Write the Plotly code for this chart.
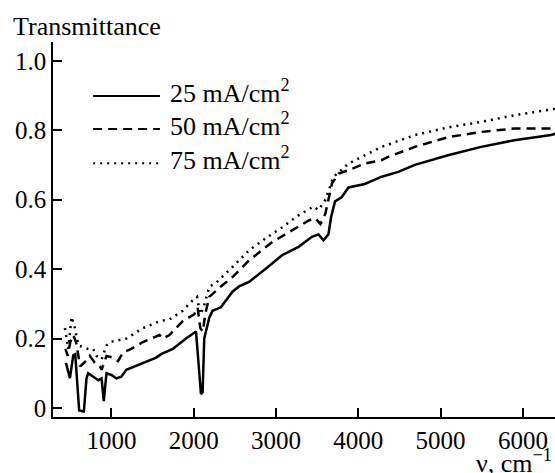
import plotly.graph_objects as go

# Transmission spectra of porous films anodised at three current densities
wn_25 = [447, 496, 536, 560, 608, 665, 697, 717, 780, 840, 880, 907, 940, 1000, 1060,
         1120, 1181, 1342, 1544, 1604, 1745, 1907, 2028, 2068, 2088, 2108, 2128, 2189,
         2229, 2330, 2390, 2471, 2551, 2672, 2871, 3073, 3274, 3436, 3516, 3576, 3637,
         3669, 3717, 3797, 3881, 4080, 4284, 4486, 4687, 5090, 5493, 5897, 6340, 6400]
tr_25 = [0.13, 0.086, 0.152, 0.155, -0.007, -0.01, 0.085, 0.10, 0.09, 0.08, 0.085, 0.02,
         0.10, 0.095, 0.085, 0.09, 0.11, 0.125, 0.145, 0.155, 0.17, 0.20, 0.22, 0.10,
         0.04, 0.045, 0.20, 0.26, 0.28, 0.29, 0.31, 0.335, 0.35, 0.363, 0.40, 0.44,
         0.464, 0.493, 0.50, 0.483, 0.50, 0.55, 0.595, 0.607, 0.635, 0.645, 0.666,
         0.68, 0.70, 0.728, 0.752, 0.771, 0.786, 0.79]

wn_50 = [440, 470, 500, 536, 570, 620, 697, 737, 798, 859, 880, 940, 1020, 1080, 1141,
         1242, 1383, 1584, 1625, 1705, 1866, 2007, 2047, 2080, 2110, 2140, 2189, 2330,
         2471, 2672, 2955, 3156, 3398, 3476, 3540, 3600, 3680, 3761, 3881, 4080, 4284,
         4362, 4687, 5090, 5493, 5897, 6340, 6400]
tr_50 = [0.17, 0.15, 0.19, 0.21, 0.19, 0.12, 0.137, 0.15, 0.13, 0.12, 0.11, 0.15, 0.145,
         0.135, 0.16, 0.17, 0.19, 0.21, 0.20, 0.21, 0.25, 0.27, 0.29, 0.23, 0.22, 0.27,
         0.32, 0.35, 0.377, 0.425, 0.478, 0.507, 0.54, 0.547, 0.53, 0.56, 0.647, 0.675,
         0.685, 0.704, 0.714, 0.723, 0.752, 0.78, 0.795, 0.805, 0.805, 0.81]

wn_75 = [435, 475, 516, 556, 600, 717, 778, 818, 880, 940, 980, 1181, 1383, 1584, 1705,
         1866, 1987, 2040, 2080, 2120, 2189, 2270, 2471, 2672, 2871, 3073, 3274, 3456,
         3516, 3600, 3700, 3881, 4284, 4687, 5090, 5493, 5897, 6340, 6400]
tr_75 = [0.23, 0.17, 0.262, 0.23, 0.18, 0.17, 0.17, 0.15, 0.14, 0.18, 0.19, 0.20, 0.23,
         0.25, 0.255, 0.28, 0.31, 0.32, 0.27, 0.29, 0.349, 0.36, 0.406, 0.454, 0.488,
         0.52, 0.555, 0.58, 0.57, 0.60, 0.666, 0.704, 0.752, 0.786, 0.808, 0.824, 0.843,
         0.858, 0.862]

series = [
    ("25 mA/cm<sup>2</sup>", wn_25, tr_25, "solid"),
    ("50 mA/cm<sup>2</sup>", wn_50, tr_50, "9px,6px"),
    ("75 mA/cm<sup>2</sup>", wn_75, tr_75, "2px,5px"),
]

x_ticks = [1000, 2000, 3000, 4000, 5000, 6000]
y_ticks = [0, 0.2, 0.4, 0.6, 0.8, 1.0]
y_labels = ["0", "0.2", "0.4", "0.6", "0.8", "1.0"]

FONT = "Liberation Serif"
TICK_FONT = dict(family=FONT, size=25, color="black")
TEXT_FONT = dict(family=FONT, size=26, color="black")

fig = go.Figure()
for name, x, y, dash in series:
    fig.add_trace(go.Scatter(x=x, y=y, mode="lines", name=name,
                             line=dict(color="black", width=2.5, dash=dash),
                             showlegend=False))

# Hand-placed key in the upper-left corner of the plot
key_rows = [0.856, 0.768, 0.677]
for (name, _, _, dash), yk in zip(series, key_rows):
    fig.add_shape(type="line", xref="paper", yref="paper", x0=0.08, x1=0.213,
                  y0=yk, y1=yk, line=dict(color="black", width=2, dash=dash))
    fig.add_annotation(xref="paper", yref="paper", x=0.23, y=yk, yshift=5, text=name,
                       showarrow=False, xanchor="left", yanchor="middle",
                       font=TEXT_FONT)

fig.add_annotation(xref="paper", yref="paper", x=0, y=1, xshift=-42, yshift=-1,
                   text="Transmittance", showarrow=False, xanchor="left",
                   yanchor="bottom", font=TEXT_FONT)
fig.add_annotation(xref="paper", yref="paper", x=1, y=0, xshift=-1, yshift=-63,
                   text="ν, cm<sup>−1</sup>", showarrow=False, xanchor="right",
                   yanchor="bottom", font=TEXT_FONT)

fig.update_layout(
    width=555, height=473,
    margin=dict(l=53, r=0, t=42, b=56),
    paper_bgcolor="white", plot_bgcolor="white",
    font=dict(family=FONT, size=25, color="black"),
    xaxis=dict(range=[290, 6390], tickvals=x_ticks, ticks="inside", ticklen=9,
               tickwidth=1.5, tickcolor="black", showline=True, linecolor="black",
               linewidth=1.5, showgrid=False, zeroline=False, tickfont=TICK_FONT),
    yaxis=dict(range=[-0.026, 1.054], tickvals=y_ticks, ticktext=y_labels,
               ticks="inside", ticklen=9, tickwidth=1.5, tickcolor="black",
               showline=True, linecolor="black", linewidth=1.5, showgrid=False,
               zeroline=False, tickfont=TICK_FONT),
)

fig.write_html("out.html")
